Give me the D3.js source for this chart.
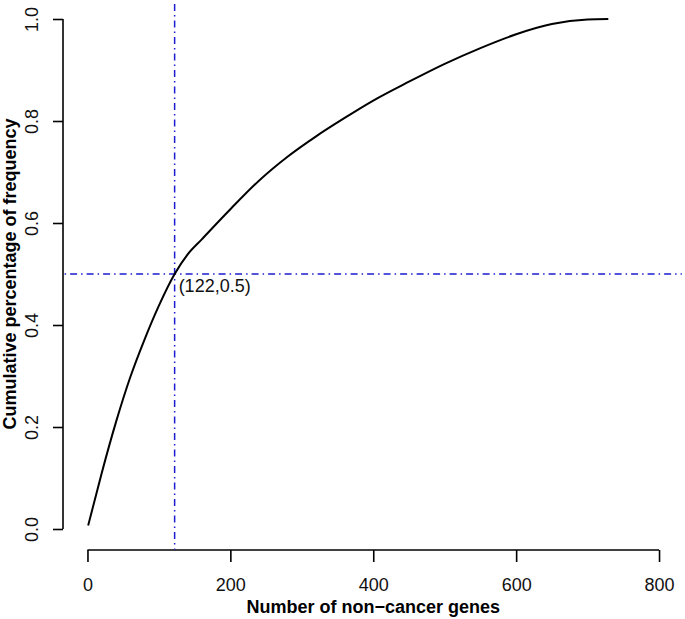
<!DOCTYPE html>
<html lang="en">
<head>
<meta charset="UTF-8">
<title>Cumulative percentage of frequency</title>
<style>
  body { margin: 0; background: #fff; }
  svg { display: block; font-family: "Liberation Sans", Arial, sans-serif; }
  .axis path, .axis line { stroke: #000; stroke-width: 1.6; }
  .axis text { font-size: 18px; fill: #111; }
  .title { font-size: 18px; font-weight: bold; fill: #000; }
</style>
</head>
<body>
<script src="https://d3js.org/d3.v7.min.js"></script>
<script>
// values
const genes = [1, 20, 40, 60, 80, 100, 122, 140, 160, 200, 240, 280, 320, 360, 400, 450, 500, 550, 600, 650, 700, 729];
const cumPct = [0.007, 0.11, 0.21, 0.298, 0.372, 0.438, 0.5, 0.538, 0.568, 0.627, 0.683, 0.73, 0.77, 0.806, 0.84, 0.877, 0.912, 0.943, 0.97, 0.99, 0.999, 1.0];
const xTicks = [0, 200, 400, 600, 800];
const yTicks = [0, 0.2, 0.4, 0.6, 0.8, 1.0];
const cut = { x: 122, y: 0.5 };

const width = 685, height = 619;

const svg = d3.select("body").append("svg")
    .attr("width", width)
    .attr("height", height);

// R-style 4% extended ranges
const x = d3.scaleLinear().domain([-32, 832]).range([64.6, 681.9]);
const y = d3.scaleLinear().domain([-0.04, 1.04]).range([549.4, -1.4]);

const points = genes.map((g, i) => [g, cumPct[i]]);

// x axis
const gx = svg.append("g")
    .attr("class", "axis")
    .attr("transform", "translate(0,550)")
    .call(d3.axisBottom(x).tickValues(xTicks).tickSize(12).tickSizeOuter(0));
gx.select(".domain").attr("d", `M${x(0)},0H${x(800)}`);
gx.selectAll("text").attr("dy", 0).attr("y", 41);

// y axis
const gy = svg.append("g")
    .attr("class", "axis")
    .attr("transform", "translate(63,0)")
    .call(d3.axisLeft(y).tickValues(yTicks).tickFormat(d3.format(".1f")).tickSize(10).tickSizeOuter(0));
gy.select(".domain").attr("d", `M0,${y(0)}V${y(1)}`);
gy.selectAll("text")
    .attr("transform", "rotate(-90)")
    .attr("x", 0)
    .attr("y", -25)
    .attr("dy", 0)
    .attr("text-anchor", "middle");

// reference lines
const dash = "1.5,4,7,4";
svg.append("line")
    .attr("x1", x(cut.x)).attr("x2", x(cut.x))
    .attr("y1", y(1.04)).attr("y2", y(-0.04))
    .attr("stroke", "#1c1cd0").attr("stroke-width", 1.5)
    .attr("stroke-dasharray", dash);
svg.append("line")
    .attr("x1", x(-32)).attr("x2", x(832))
    .attr("y1", y(cut.y)).attr("y2", y(cut.y))
    .attr("stroke", "#1c1cd0").attr("stroke-width", 1.5)
    .attr("stroke-dasharray", dash);

// cumulative curve
svg.append("path")
    .datum(points)
    .attr("fill", "none")
    .attr("stroke", "#000")
    .attr("stroke-width", 2)
    .attr("d", d3.line()
        .x(d => x(d[0]))
        .y(d => y(d[1]))
        .curve(d3.curveMonotoneX));

svg.append("text")
    .attr("x", x(cut.x) + 4)
    .attr("y", y(cut.y) + 18)
    .attr("font-size", 18)
    .attr("fill", "#111")
    .text(`(${cut.x},${cut.y})`);

// titles
svg.append("text")
    .attr("class", "title")
    .attr("x", x(400))
    .attr("y", 613)
    .attr("text-anchor", "middle")
    .text("Number of non\u2212cancer genes");

svg.append("text")
    .attr("class", "title")
    .attr("transform", `translate(16,${y(0.5)}) rotate(-90)`)
    .attr("text-anchor", "middle")
    .text("Cumulative percentage of frequency");
</script>
</body>
</html>
